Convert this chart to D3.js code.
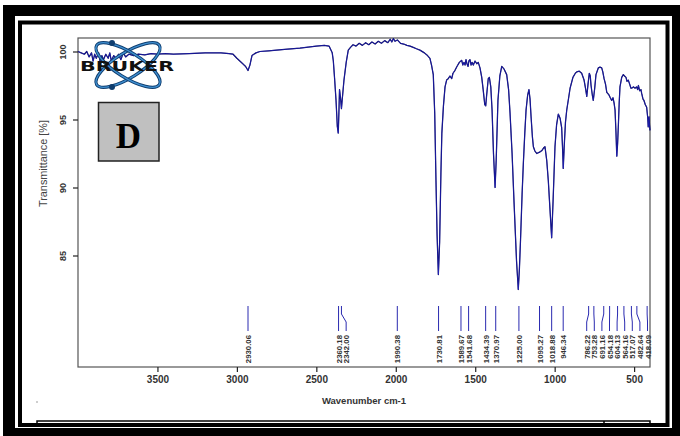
<!DOCTYPE html>
<html><head><meta charset="utf-8">
<script src="https://cdn.jsdelivr.net/npm/d3@7"></script>
<style>body{margin:0;background:#fff}svg{display:block}</style>
</head><body>
<svg id="c" width="680" height="436"></svg>
<script>
// ---- data ----
const wavenumbers = [4000,3980,3960,3945,3930,3915,3905,3895,3885,3870,3860,3850,3840,3825,3810,3800,3790,3775,3760,3745,3730,3715,3700,3680,3650,3620,3580,3540,3500,3450,3400,3300,3200,3100,3050,3024,3000,2968,2945,2930,2918,2905,2880,2855,2800,2700,2603,2500,2450,2420,2400,2393,2385,2376,2368,2362,2358,2354,2348,2342,2336,2326,2312,2299,2285,2269,2250,2230,2210,2190,2170,2150,2130,2110,2090,2070,2050,2035,2025,2015,2005,1990,1970,1950,1930,1910,1890,1870,1848,1820,1800,1785,1775,1764,1755,1747,1740,1732,1724,1716,1710,1700,1690,1680,1670,1659,1648,1640,1628,1615,1600,1585,1578,1571,1564,1558,1552,1545,1540,1533,1526,1520,1512,1501,1490,1481,1470,1459,1450,1440,1434,1428,1418,1411,1402,1394,1385,1375,1368,1357,1345,1333,1318,1302,1290,1281,1268,1256,1240,1229,1222,1215,1205,1197,1188,1180,1170,1162,1155,1149,1140,1134,1125,1113,1095,1082,1070,1061,1050,1040,1030,1019,1010,1004,998,988,977,966,956,950,946,940,932,924,912,903,885,870,861,845,830,815,806,798,790,782,776,771,763,757,748,740,725,715,704,697,689,680,672,665,658,650,641,633,626,620,614,609,604,599,594,589,578,568,560,551,545,537,528,520,515,505,494,485,478,473,465,457,452,444,438,430,421,415,411,408,406,403,400];
const transmittance = [100.0,99.9,99.8,100.0,99.6,99.9,99.3,99.8,99.5,99.9,99.2,99.7,99.4,99.8,99.5,99.9,99.3,99.7,99.5,99.8,99.4,99.9,99.6,99.8,99.7,99.8,99.75,99.85,99.8,99.85,99.8,99.85,99.9,99.9,99.85,99.8,99.5,99.15,98.9,98.6,99.0,99.7,99.9,100.0,100.05,100.15,100.25,100.4,100.45,100.4,99.9,99.3,98.0,96.4,94.5,94.0,95.5,97.2,96.6,95.8,96.6,97.9,99.2,100.1,100.3,100.5,100.4,100.6,100.45,100.65,100.5,100.7,100.55,100.75,100.6,100.8,100.65,100.9,100.7,100.95,100.75,100.85,100.6,100.55,100.45,100.4,100.3,100.2,100.1,99.9,99.7,99.5,99.0,98.3,95.5,90.5,86.5,83.6,86.0,91.0,94.0,96.0,97.4,97.9,98.0,98.2,98.0,98.4,98.6,98.9,99.2,99.35,99.0,99.2,99.0,99.4,99.1,98.9,99.3,99.4,99.0,99.2,99.0,99.3,99.1,99.2,98.8,98.1,97.2,96.1,96.0,96.8,98.0,98.1,97.4,95.7,92.5,90.0,92.0,96.4,98.2,98.9,98.7,98.3,97.2,95.5,92.5,89.0,84.6,82.5,84.0,86.1,89.5,91.8,94.0,95.7,96.8,97.2,96.5,95.3,93.7,93.0,92.7,92.5,92.6,92.7,92.9,93.0,92.0,90.5,88.5,86.3,89.0,91.0,93.0,94.6,95.4,95.1,94.4,92.8,91.4,93.0,94.8,95.7,96.6,97.3,98.1,98.4,98.5,98.55,98.4,97.9,97.3,96.7,97.6,98.4,98.2,97.5,96.8,96.4,97.3,98.3,98.8,98.85,98.8,98.5,98.0,97.6,97.0,96.9,96.8,96.6,96.4,96.6,96.2,95.7,94.0,92.3,93.2,94.6,96.2,97.4,98.1,98.3,98.2,98.1,97.8,97.9,97.6,97.3,97.3,97.4,97.3,97.4,97.2,97.5,97.1,97.2,96.9,96.5,96.4,96.1,95.9,95.2,94.45,95.0,95.2,94.6,94.2];
const peakLabels = ["2930.06","2360.18","2342.00","1990.38","1730.81","1589.67","1541.68","1434.39","1370.97","1225.00","1095.27","1018.88","946.34","786.22","753.28","691.16","654.18","604.13","564.16","517.07","482.64","418.09"];
const xTicks = [3500,3000,2500,2000,1500,1000,500];
const yTicks = [100,95,90,85];
const xTitle = "Wavenumber cm-1";
const yTitle = "Transmittance [%]";
const panelLetter = "D";
const logoText = "BRUKER";

const svg = d3.select("#c");
const F = "'Liberation Sans', Arial, sans-serif";

// frame
svg.append("rect").attr("width",680).attr("height",436).attr("fill","#fff");
svg.append("rect").attr("x",3).attr("y",5).attr("width",677).attr("height",431).attr("fill","#000");
svg.append("rect").attr("x",15).attr("y",16).attr("width",657).attr("height",412).attr("fill","#fff");
svg.append("rect").attr("x",20).attr("y",22.5).attr("width",647.5).attr("height",402.5)
  .attr("fill","none").attr("stroke","#000").attr("stroke-width",4);
// bottom box
const bb = svg.append("g").attr("stroke","#000").attr("stroke-width",1.5).attr("fill","none");
bb.append("path").attr("d","M37,426V421H650V426M604,421V426");
svg.append("circle").attr("cx",37).attr("cy",402).attr("r",0.7).attr("fill","#777");

// plot area
const L=78, R=650, T=38, B=367;
const x = d3.scaleLinear().domain([4000,400]).range([L,R]);
const y = d3.scaleLinear().domain([85,100]).range([255.5,51.5]);

svg.append("rect").attr("x",L).attr("y",T).attr("width",R-L).attr("height",B-T)
  .attr("fill","none").attr("stroke","#555").attr("stroke-width",1.2);

// x axis
const xa = svg.append("g").attr("transform",`translate(0,${B})`)
  .call(d3.axisBottom(x).tickValues(xTicks).tickSize(5).tickPadding(4).tickFormat(d3.format("d")));
xa.select(".domain").remove();
xa.selectAll("line").attr("stroke","#222").attr("stroke-width",1.2);
xa.selectAll("text").attr("font-family",F).attr("font-weight","bold").attr("font-size",10).attr("fill","#333");
svg.append("text").attr("x",(L+R)/2+0).attr("y",404).attr("text-anchor","middle")
  .attr("font-family",F).attr("font-weight","bold").attr("font-size",9.5).attr("fill","#333").text(xTitle);

// y axis
const ya = svg.append("g").attr("transform",`translate(${L},0)`)
  .call(d3.axisLeft(y).tickValues(yTicks).tickSize(5).tickFormat(d3.format("d")));
ya.select(".domain").remove();
ya.selectAll("line").attr("stroke","#222").attr("stroke-width",1.2);
ya.selectAll("text").attr("font-family",F).attr("font-weight","bold").attr("font-size",9).attr("fill","#333")
  .attr("text-anchor","middle").attr("x",0).attr("dy",0)
  .attr("transform","translate(-15,0) rotate(-90)").attr("y",0).attr("dy","0.35em");
svg.append("text").attr("transform","translate(47,163.5) rotate(-90)").attr("text-anchor","middle")
  .attr("font-family",F).attr("font-size",11).attr("fill","#444")
  .attr("textLength",87).attr("lengthAdjust","spacingAndGlyphs").text(yTitle);

// spectrum
const pts = wavenumbers.map((w,i)=>[w,transmittance[i]]);
const line = d3.line().x(d=>x(d[0])).y(d=>y(d[1]));
svg.append("path").datum(pts).attr("d",line).attr("fill","none").attr("stroke","#000050").attr("stroke-width",1.25).attr("stroke-linejoin","round");
svg.append("path").datum(pts).attr("d",line).attr("fill","none").attr("stroke","#2a2ad0").attr("stroke-width",0.6).attr("stroke-linejoin","round");

// peak labels
const gap = 7.6, maxX = R-2.5;
const pk = peakLabels.map(s=>({s, w:+s, px:x(+s)}));
pk.sort((a,b)=>a.px-b.px);
pk.forEach((d,i)=>{ d.lx = i===0? d.px : Math.max(d.px, pk[i-1].lx+gap); });
if (pk[pk.length-1].lx>maxX){
  pk[pk.length-1].lx = maxX;
  for(let i=pk.length-2;i>=0;i--) pk[i].lx = Math.min(pk[i].lx, pk[i+1].lx-gap);
}
const y0=306, y1=314, y2=322, y3=331;
const pg = svg.append("g");
pg.selectAll("path").data(pk).join("path")
  .attr("d",d=>`M${d.px},${y0}V${y1}L${d.lx},${y2}V${y3}`)
  .attr("fill","none").attr("stroke","#2a2ab0").attr("stroke-width",1);
pg.selectAll("text").data(pk).join("text")
  .attr("transform",d=>`translate(${d.lx+3},${y3+4}) rotate(-90)`)
  .attr("text-anchor","end").attr("font-family",F).attr("font-weight","bold")
  .attr("font-size",7.8).attr("fill","#333").text(d=>d.s);

// Bruker logo
const lg = svg.append("g").attr("transform","translate(128,65)");
[-32,32].forEach(a=>{
  lg.append("ellipse").attr("rx",37).attr("ry",12.5).attr("transform",`rotate(${a})`)
    .attr("fill","none").attr("stroke","#0f3d6e").attr("stroke-width",3.2);
  lg.append("ellipse").attr("rx",37).attr("ry",12.5).attr("transform",`rotate(${a})`)
    .attr("fill","none").attr("stroke","#3f8fd0").attr("stroke-width",1.4);
});
lg.append("circle").attr("cx",-16).attr("cy",-22).attr("r",3).attr("fill","#0f3d6e");
lg.append("circle").attr("cx",-16).attr("cy",22).attr("r",3).attr("fill","#0f3d6e");
svg.append("text").attr("x",80).attr("y",70.5).attr("font-family","'DejaVu Sans', Arial, sans-serif")
  .attr("font-weight","bold").attr("font-size",14.5).attr("fill","#111")
  .attr("textLength",94).attr("lengthAdjust","spacingAndGlyphs").text(logoText);

// panel letter box
svg.append("rect").attr("x",98.5).attr("y",102.5).attr("width",60.5).attr("height",58.5)
  .attr("fill","#c0c0c0").attr("stroke","#222").attr("stroke-width",1.5);
svg.append("text").attr("x",128.5).attr("y",147.5).attr("text-anchor","middle")
  .attr("font-family","'Liberation Serif','Times New Roman',serif").attr("font-weight","bold")
  .attr("font-size",35).attr("fill","#000").text(panelLetter);
</script>
</body></html>
